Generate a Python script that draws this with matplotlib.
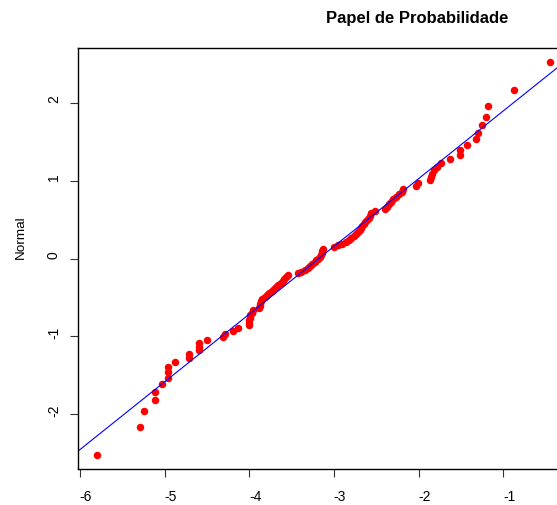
import matplotlib
matplotlib.use('Agg')
import matplotlib.pyplot as plt
from matplotlib.transforms import ScaledTranslation
from statistics import NormalDist

plt.rcParams['font.family'] = ['Liberation Sans', 'DejaVu Sans']

# sorted sample values (horizontal axis)
sample = [
    -5.80, -5.29, -5.25, -5.11, -5.11, -5.03, -4.96, -4.96, -4.96, -4.88,
    -4.71, -4.71, -4.59, -4.59, -4.59, -4.50, -4.31, -4.29, -4.19, -4.13,
    -4.01, -4.01, -4.00, -3.99, -3.99, -3.97, -3.96, -3.89, -3.88, -3.88,
    -3.86, -3.85, -3.82, -3.79, -3.77, -3.73, -3.71, -3.68, -3.66, -3.63,
    -3.60, -3.59, -3.57, -3.54, -3.43, -3.39, -3.34, -3.31, -3.28, -3.26,
    -3.23, -3.21, -3.19, -3.17, -3.15, -3.14, -3.14, -3.13, -3.00, -2.95,
    -2.91, -2.86, -2.82, -2.80, -2.77, -2.74, -2.72, -2.69, -2.68, -2.67,
    -2.65, -2.64, -2.61, -2.59, -2.58, -2.56, -2.52, -2.40, -2.38, -2.35,
    -2.33, -2.30, -2.27, -2.23, -2.20, -2.18, -2.03, -2.01, -1.87, -1.86,
    -1.84, -1.82, -1.79, -1.74, -1.63, -1.51, -1.51, -1.43, -1.32, -1.30,
    -1.25, -1.21, -1.18, -0.87, -0.45,
]

# reference line: normal with this mean / sd
line_mean = -3.18
line_sd = 1.151

x_ticks = [-6, -5, -4, -3, -2, -1]
y_ticks = [-2, -1, 0, 1, 2]

# normal scores (Blom plotting positions)
n = len(sample)
nd = NormalDist()
normal = [nd.inv_cdf((i - 0.375) / (n + 0.25)) for i in range(1, n + 1)]

W, H = 557, 505
fig = plt.figure(figsize=(W / 100, H / 100), dpi=100)
fig.patch.set_facecolor('white')
ax = fig.add_axes([78 / W, (H - 469) / H, (568 - 78) / W, (469 - 48) / H])

ax.plot(sample, normal, 'o', color='#ff0000', markersize=5.4, markeredgewidth=0)
ax.axline((line_mean, 0), slope=1 / line_sd, color='#0000ff', lw=0.8)

ax.set_xlim(-6.024, -0.237)
ax.set_ylim(-2.70, 2.70)
ax.set_xticks(x_ticks)
ax.set_yticks(y_ticks)
ax.set_xticklabels([str(v) for v in x_ticks])
ax.set_yticklabels([str(v) for v in y_ticks], rotation=90, va='center')

for sp in ax.spines.values():
    sp.set_linewidth(1.0)
    sp.set_color('black')

ax.tick_params(axis='both', direction='out', length=5.8, width=0.8,
               color='#333333', labelsize=10, labelcolor='black')
ax.tick_params(axis='x', pad=9)
ax.tick_params(axis='y', pad=6.5)

for lab in ax.get_xticklabels():
    lab.set_transform(lab.get_transform() + ScaledTranslation(0.06, 0, fig.dpi_scale_trans))
for lab in ax.get_yticklabels():
    lab.set_transform(lab.get_transform() + ScaledTranslation(0, 0.035, fig.dpi_scale_trans))

fig.text(21 / W, (H - 237) / H, 'Normal', rotation=90, ha='center', va='center', fontsize=9.7)
fig.text(416.7 / W, (H - 22.7) / H, 'Papel de Probabilidade', ha='center',
         va='baseline', fontsize=12, fontweight='bold')

fig.savefig('out.png', dpi=100, facecolor='white')
